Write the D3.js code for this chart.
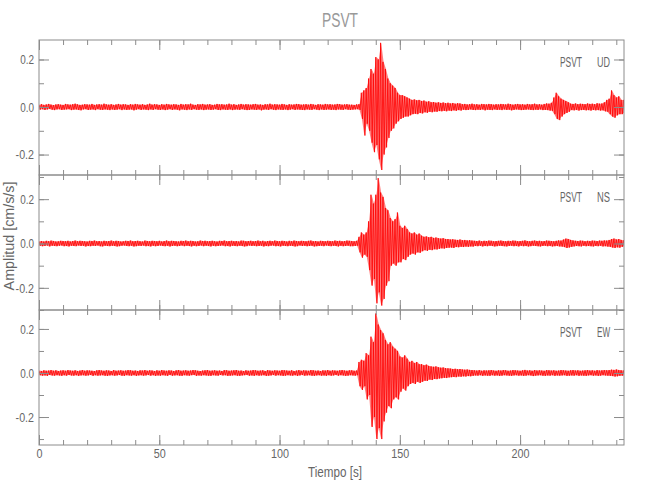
<!DOCTYPE html>
<html><head><meta charset="utf-8">
<script src="https://cdn.jsdelivr.net/npm/d3@7"></script>
<style>
html,body{margin:0;padding:0;background:#fff;}
svg text{font-family:"Liberation Sans","DejaVu Sans",sans-serif;}
</style></head>
<body><svg id="c" width="650" height="500"></svg>
<script>
// ---- data (cm/s/s), one hi/lo envelope pair per second, t = 0..243 s ----
const title = "PSVT";
const station = "PSVT";
const components = ["UD", "NS", "EW"];
const xMajorTicks = [0, 50, 100, 150, 200];
const yMajorTicks = [-0.2, 0.0, 0.2];
const yDomains = [[-0.286, 0.282], [-0.300, 0.309], [-0.327, 0.286]];
const timeDomain = [0, 243.2];

const udHi = [.010,.012,.009,.011,.013,.010,.008,.011,.012,.010,.009,.013,.011,.010,.012,.014,.011,.009,.010,.012,.011,.010,.013,.009,.011,.012,.010,.014,.011,.010,.012,.009,.011,.013,.010,.012,.011,.009,.012,.010,.013,.011,.010,.012,.009,.011,.014,.010,.012,.011,.009,.012,.010,.013,.011,.010,.012,.011,.009,.013,.010,.012,.011,.014,.010,.009,.012,.011,.013,.010,.011,.012,.009,.010,.013,.011,.012,.010,.011,.014,.010,.012,.009,.011,.013,.010,.012,.011,.010,.012,.013,.010,.011,.009,.012,.011,.014,.010,.012,.011,.010,.013,.011,.009,.012,.010,.011,.013,.012,.010,.011,.012,.010,.013,.011,.009,.012,.011,.010,.013,.011,.012,.010,.011,.013,.012,.010,.011,.012,.010,
.010,.009,.011,.012,
.06,.07,.08,.12,.16,.14,.21,.20,.27,.19,.16,.12,.10,.09,.08,.06,.05,.05,.045,.04,.035,.03,.032,.028,.03,.025,.027,.022,.024,.02,
.021,.018,.02,.017,.019,.016,.018,.015,.017,.014,.016,.015,
.012,.013,.011,.012,.014,.011,.012,.010,.013,.012,.011,.013,.012,.010,.012,.011,.013,.012,.011,.014,.012,.010,.012,.013,.011,.012,.010,.013,.011,.012,.014,.011,.012,.010,.013,
.015,.014,.018,
.04,.06,.045,.035,.03,.025,.02,
.014,.013,.015,.012,.014,.013,.012,.015,.013,.014,.012,.016,.014,.015,
.02,.03,.035,.07,.05,.04,.045,.03,.03];
const udLo = [-.011,-.009,-.012,-.010,-.008,-.011,-.013,-.010,-.009,-.012,-.011,-.010,-.009,-.013,-.011,-.010,-.012,-.014,-.010,-.009,-.012,-.011,-.010,-.013,-.009,-.011,-.012,-.010,-.011,-.013,-.010,-.012,-.011,-.009,-.013,-.010,-.012,-.011,-.010,-.014,-.011,-.009,-.012,-.010,-.011,-.013,-.010,-.012,-.009,-.011,-.012,-.010,-.013,-.011,-.009,-.012,-.010,-.011,-.014,-.010,-.011,-.013,-.010,-.012,-.009,-.011,-.012,-.010,-.013,-.011,-.010,-.012,-.011,-.009,-.012,-.013,-.010,-.011,-.012,-.010,-.013,-.011,-.010,-.012,-.009,-.011,-.013,-.012,-.010,-.011,-.012,-.010,-.014,-.011,-.010,-.012,-.009,-.011,-.013,-.010,-.011,-.012,-.010,-.013,-.011,-.009,-.012,-.010,-.011,-.012,-.013,-.010,-.011,-.012,-.009,-.011,-.013,-.010,-.012,-.011,-.010,-.012,-.011,-.013,-.010,-.011,-.012,-.009,-.011,-.012,
-.011,-.010,-.009,-.012,
-.05,-.12,-.07,-.10,-.15,-.19,-.16,-.22,-.265,-.20,-.17,-.13,-.10,-.09,-.07,-.06,-.05,-.045,-.04,-.04,-.035,-.03,-.028,-.03,-.025,-.027,-.022,-.024,-.02,-.022,
-.019,-.02,-.017,-.018,-.016,-.018,-.015,-.017,-.014,-.016,-.013,-.015,
-.011,-.013,-.012,-.010,-.012,-.013,-.011,-.012,-.010,-.014,-.011,-.012,-.013,-.010,-.012,-.011,-.013,-.010,-.012,-.011,-.014,-.012,-.010,-.011,-.013,-.012,-.011,-.010,-.012,-.013,-.011,-.012,-.010,-.013,-.012,
-.013,-.015,-.016,
-.03,-.05,-.055,-.04,-.03,-.025,-.02,
-.013,-.014,-.012,-.015,-.013,-.012,-.014,-.013,-.015,-.012,-.014,-.013,-.015,-.014,
-.018,-.02,-.03,-.04,-.045,-.035,-.03,-.03,-.025];

const nsHi = [.010,.011,.009,.012,.010,.013,.011,.009,.010,.012,.011,.010,.012,.009,.011,.013,.010,.012,.011,.010,.009,.012,.011,.013,.010,.011,.009,.012,.010,.011,.013,.010,.012,.011,.009,.010,.012,.011,.013,.010,.011,.012,.010,.009,.013,.011,.010,.012,.011,.010,.012,.009,.011,.013,.010,.012,.011,.010,.009,.012,.011,.013,.010,.012,.011,.009,.010,.013,.011,.012,.010,.011,.012,.010,.009,.012,.011,.013,.010,.011,.012,.010,.011,.009,.013,.012,.010,.011,.012,.010,.011,.013,.010,.012,.009,.011,.012,.010,.013,.011,.010,.012,.011,.009,.012,.010,.013,.011,.010,.012,.011,.010,.012,.013,.010,.011,.009,.012,.011,.010,.012,.011,.010,.013,.011,.012,.010,.011,.013,.012,
.011,.010,.012,
.03,.05,.04,.05,
.10,.22,.18,
.22,.295,.23,.21,
.16,.15,
.115,.10,.11,
.14,
.08,.07,.08,.065,
.05,.045,.05,.04,.045,
.035,.03,.032,.028,.03,.025,.027,.024,.022,.024,.02,
.02,.018,.019,.017,.016,.018,.015,.016,.014,.015,.013,
.012,.011,.013,.010,.012,.011,.013,.012,.010,.011,.012,.013,.011,.010,.012,.011,.013,.012,.010,.011,.012,.014,.011,.010,.012,.013,.011,.012,.010,.011,.013,.012,.011,.010,.012,.014,.013,
.018,.022,.02,.016,.014,
.012,.011,.013,.012,.010,.012,.011,.013,.012,.011,.013,.012,.014,.013,
.016,.02,.022,.018,.02,.016,.014];
const nsLo = [-.010,-.012,-.011,-.009,-.013,-.010,-.011,-.012,-.010,-.009,-.012,-.011,-.013,-.010,-.011,-.012,-.009,-.011,-.010,-.013,-.011,-.012,-.010,-.011,-.009,-.012,-.013,-.010,-.011,-.012,-.010,-.011,-.013,-.012,-.010,-.009,-.011,-.012,-.010,-.013,-.012,-.010,-.011,-.009,-.012,-.011,-.013,-.010,-.012,-.011,-.009,-.011,-.012,-.010,-.013,-.011,-.010,-.012,-.011,-.009,-.012,-.010,-.011,-.013,-.010,-.012,-.011,-.009,-.012,-.010,-.011,-.013,-.010,-.012,-.011,-.010,-.009,-.012,-.011,-.013,-.010,-.011,-.012,-.010,-.011,-.013,-.012,-.009,-.011,-.010,-.012,-.011,-.010,-.013,-.011,-.012,-.010,-.009,-.012,-.011,-.013,-.010,-.011,-.012,-.010,-.011,-.013,-.012,-.009,-.011,-.010,-.012,-.011,-.010,-.013,-.012,-.011,-.010,-.012,-.009,-.011,-.012,-.010,-.011,-.013,-.010,-.012,-.011,-.010,-.012,
-.012,-.011,-.010,
-.04,-.064,-.05,-.06,
-.12,-.19,-.16,
-.27,-.22,-.28,-.25,
-.19,-.17,
-.10,-.09,-.10,
-.085,
-.085,-.07,-.075,-.06,
-.05,-.045,-.05,-.04,-.042,
-.035,-.03,-.033,-.028,-.03,-.026,-.027,-.024,-.022,-.023,-.02,
-.019,-.018,-.02,-.016,-.017,-.015,-.016,-.014,-.015,-.013,-.014,
-.011,-.012,-.010,-.013,-.011,-.012,-.010,-.011,-.013,-.012,-.010,-.011,-.012,-.013,-.011,-.010,-.012,-.011,-.013,-.010,-.012,-.011,-.013,-.012,-.010,-.011,-.012,-.013,-.011,-.010,-.012,-.011,-.013,-.012,-.011,-.013,-.014,
-.016,-.02,-.018,-.015,-.013,
-.011,-.012,-.013,-.010,-.012,-.011,-.012,-.013,-.011,-.012,-.010,-.013,-.012,-.014,
-.015,-.018,-.02,-.017,-.019,-.015,-.013];

const ewHi = [.011,.009,.012,.010,.011,.013,.010,.012,.009,.011,.012,.010,.013,.011,.010,.012,.009,.011,.013,.010,.012,.011,.010,.009,.012,.013,.011,.010,.012,.011,.009,.013,.010,.011,.012,.010,.011,.013,.012,.010,.011,.009,.012,.011,.013,.010,.012,.011,.009,.012,.010,.013,.011,.010,.012,.011,.009,.012,.013,.010,.011,.012,.010,.011,.013,.012,.010,.009,.011,.012,.013,.010,.011,.012,.010,.011,.009,.013,.012,.010,.011,.012,.013,.010,.011,.009,.012,.010,.011,.013,.012,.010,.011,.012,.009,.013,.011,.010,.012,.011,.010,.013,.012,.011,.010,.012,.009,.011,.013,.010,.012,.011,.010,.013,.012,.010,.011,.009,.012,.011,.013,.010,.012,.011,.010,.012,.013,.011,.010,.012,
.012,.010,.011,
.05,.06,.055,
.09,.08,
.165,.14,
.27,.22,
.195,.18,
.15,.13,.14,
.12,.11,.10,
.075,.07,.08,.065,
.05,.055,.045,.05,.04,
.04,.035,.038,.032,.03,.028,.03,.026,.024,.025,.022,
.021,.02,.018,.019,.017,.018,.016,.015,.016,.014,.013,
.012,.011,.013,.010,.012,.011,.012,.013,.011,.010,.012,.011,.013,.012,.010,.011,.013,.012,.011,.010,.012,.014,.011,.012,.010,.013,.011,.012,.011,.010,.013,.012,.011,.012,.010,.011,.013,.012,.011,.010,.012,.013,.011,.012,.010,.011,.012,.013,.011,.012,.010,.013,.011,.012,.013,.012,
.013,.015,.014,.016,.013,.012,.011];
const ewLo = [-.010,-.012,-.011,-.013,-.009,-.011,-.012,-.010,-.011,-.013,-.010,-.012,-.009,-.011,-.012,-.010,-.013,-.011,-.010,-.012,-.011,-.009,-.013,-.010,-.012,-.011,-.010,-.012,-.013,-.011,-.010,-.012,-.011,-.009,-.012,-.013,-.010,-.011,-.012,-.010,-.013,-.011,-.010,-.012,-.011,-.009,-.012,-.010,-.013,-.011,-.012,-.010,-.011,-.013,-.009,-.012,-.011,-.010,-.012,-.013,-.010,-.011,-.012,-.010,-.009,-.013,-.011,-.012,-.010,-.011,-.012,-.013,-.010,-.011,-.012,-.009,-.011,-.010,-.013,-.012,-.011,-.010,-.012,-.013,-.011,-.010,-.009,-.012,-.011,-.013,-.010,-.012,-.011,-.010,-.013,-.012,-.011,-.009,-.012,-.010,-.011,-.013,-.012,-.010,-.011,-.012,-.010,-.013,-.011,-.009,-.012,-.011,-.010,-.012,-.013,-.011,-.010,-.012,-.011,-.013,-.010,-.012,-.011,-.009,-.012,-.010,-.011,-.013,-.012,-.010,
-.011,-.012,-.010,
-.06,-.077,-.06,
-.12,-.10,
-.245,-.20,
-.30,-.25,
-.30,-.22,
-.18,-.15,-.16,
-.12,-.11,-.12,
-.085,-.07,-.08,-.06,
-.05,-.045,-.05,-.04,-.045,
-.04,-.035,-.036,-.03,-.032,-.027,-.028,-.025,-.024,-.022,-.023,
-.02,-.019,-.018,-.019,-.016,-.017,-.015,-.016,-.014,-.015,-.013,
-.011,-.012,-.010,-.013,-.011,-.012,-.013,-.010,-.012,-.011,-.013,-.012,-.010,-.011,-.012,-.013,-.011,-.010,-.012,-.011,-.013,-.012,-.010,-.011,-.014,-.012,-.011,-.010,-.012,-.013,-.011,-.012,-.010,-.013,-.011,-.012,-.011,-.010,-.013,-.012,-.011,-.012,-.010,-.013,-.011,-.012,-.013,-.011,-.010,-.012,-.011,-.013,-.012,-.010,-.011,-.012,
-.013,-.014,-.016,-.015,-.013,-.012,-.011];

const traces = [[udHi, udLo], [nsHi, nsLo], [ewHi, ewLo]];

// ---- layout ----
const svg = d3.select("#c");
const L = 39, R = 624, T = 40, PH = 135;
const axisCol = "#8c8c8c", textCol = "#666";
const x = d3.scaleLinear().domain(timeDomain).range([L, R]);
const xMinor = d3.range(0, 241, 10);
const fmt = v => d3.format(".1f")(v).replace("\u2212", "-");
const narrow = (sel, perChar) => sel.each(function () {
  const t = d3.select(this), s = t.text();
  if (s) t.attr("textLength", s.length * perChar).attr("lengthAdjust", "spacingAndGlyphs");
});

svg.append("text").attr("x", 340).attr("y", 27).attr("text-anchor", "middle")
  .attr("font-size", 21).attr("fill", "#999").text(title).call(narrow, 9);

svg.append("defs").selectAll("clipPath").data(components).join("clipPath")
  .attr("id", (d, i) => "clip" + i)
  .append("rect").attr("x", L).attr("y", (d, i) => T + i * PH).attr("width", R - L).attr("height", PH);

components.forEach((comp, i) => {
  const top = T + i * PH, bot = top + PH;
  const y = d3.scaleLinear().domain(yDomains[i]).range([bot, top]);
  const g = svg.append("g");
  const yMinor = d3.range(-0.3, 0.31, 0.1).map(v => Math.round(v * 10) / 10)
    .filter(v => v >= yDomains[i][0] && v <= yDomains[i][1]);

  // trace: envelope fill + zigzag through the per-second peaks
  const [hi, lo] = traces[i];
  const pts = [];
  hi.forEach((h, k) => { pts.push([k, h]); pts.push([k + 0.5, lo[k]]); });
  const area = d3.area().x((d, k) => x(k + 0.25)).y0((d, k) => y(lo[k])).y1(d => y(d));
  const tr = g.append("g").attr("clip-path", `url(#clip${i})`);
  tr.append("path").attr("d", area(hi)).attr("fill", "#ff0000").attr("fill-opacity", 0.5);
  const line = d3.line().x(d => x(d[0])).y(d => y(d[1]));
  tr.append("path").attr("d", line(pts))
    .attr("fill", "none").attr("stroke", "#ff0000").attr("stroke-width", 0.8);

  function styleAxis(sel) {
    sel.select(".domain").remove();
    sel.selectAll("line").attr("stroke", axisCol);
    sel.selectAll("text").attr("fill", textCol).attr("font-size", 13);
  }
  // left
  g.append("g").attr("transform", `translate(${L},0)`)
    .call(d3.axisLeft(y).tickValues(yMinor).tickSize(-5).tickFormat("")).call(styleAxis);
  g.append("g").attr("transform", `translate(${L},0)`)
    .call(d3.axisLeft(y).tickValues(yMajorTicks).tickSize(-10).tickPadding(5).tickFormat(fmt))
    .call(styleAxis).selectAll("text").attr("text-anchor", "end").call(narrow, 4.6);
  // right
  g.append("g").attr("transform", `translate(${R},0)`)
    .call(d3.axisRight(y).tickValues(yMinor).tickSize(-5).tickFormat("")).call(styleAxis);
  g.append("g").attr("transform", `translate(${R},0)`)
    .call(d3.axisRight(y).tickValues(yMajorTicks).tickSize(-10).tickFormat("")).call(styleAxis);
  // top
  g.append("g").attr("transform", `translate(0,${top})`)
    .call(d3.axisTop(x).tickValues(xMinor).tickSize(-5).tickFormat("")).call(styleAxis);
  g.append("g").attr("transform", `translate(0,${top})`)
    .call(d3.axisTop(x).tickValues(xMajorTicks).tickSize(-10).tickFormat("")).call(styleAxis);
  // bottom
  g.append("g").attr("transform", `translate(0,${bot})`)
    .call(d3.axisBottom(x).tickValues(xMinor).tickSize(-5).tickFormat("")).call(styleAxis);
  g.append("g").attr("transform", `translate(0,${bot})`)
    .call(d3.axisBottom(x).tickValues(xMajorTicks).tickSize(-10).tickPadding(4)
      .tickFormat(i === components.length - 1 ? d3.format("d") : ""))
    .call(styleAxis).selectAll("text").call(narrow, 6);

  // frame
  g.append("rect").attr("x", L).attr("y", top).attr("width", R - L).attr("height", PH)
    .attr("fill", "none").attr("stroke", axisCol).attr("stroke-width", 1);

  // component label
  const lab = g.append("g").attr("font-size", 14).attr("fill", textCol);
  lab.append("text").attr("x", 560).attr("y", top + 27).text(station).call(narrow, 5.5);
  lab.append("text").attr("x", 597).attr("y", top + 27).text(comp).call(narrow, 6.5);
});

svg.append("text").attr("x", 335).attr("y", 477).attr("text-anchor", "middle")
  .attr("font-size", 14).attr("fill", textCol).text("Tiempo [s]").call(narrow, 5.4);
svg.append("text").attr("transform", "translate(14,236) rotate(-90)").attr("text-anchor", "middle")
  .attr("font-size", 14).attr("fill", textCol).text("Amplitud [cm/s/s]").call(narrow, 6.4);
</script></body></html>
